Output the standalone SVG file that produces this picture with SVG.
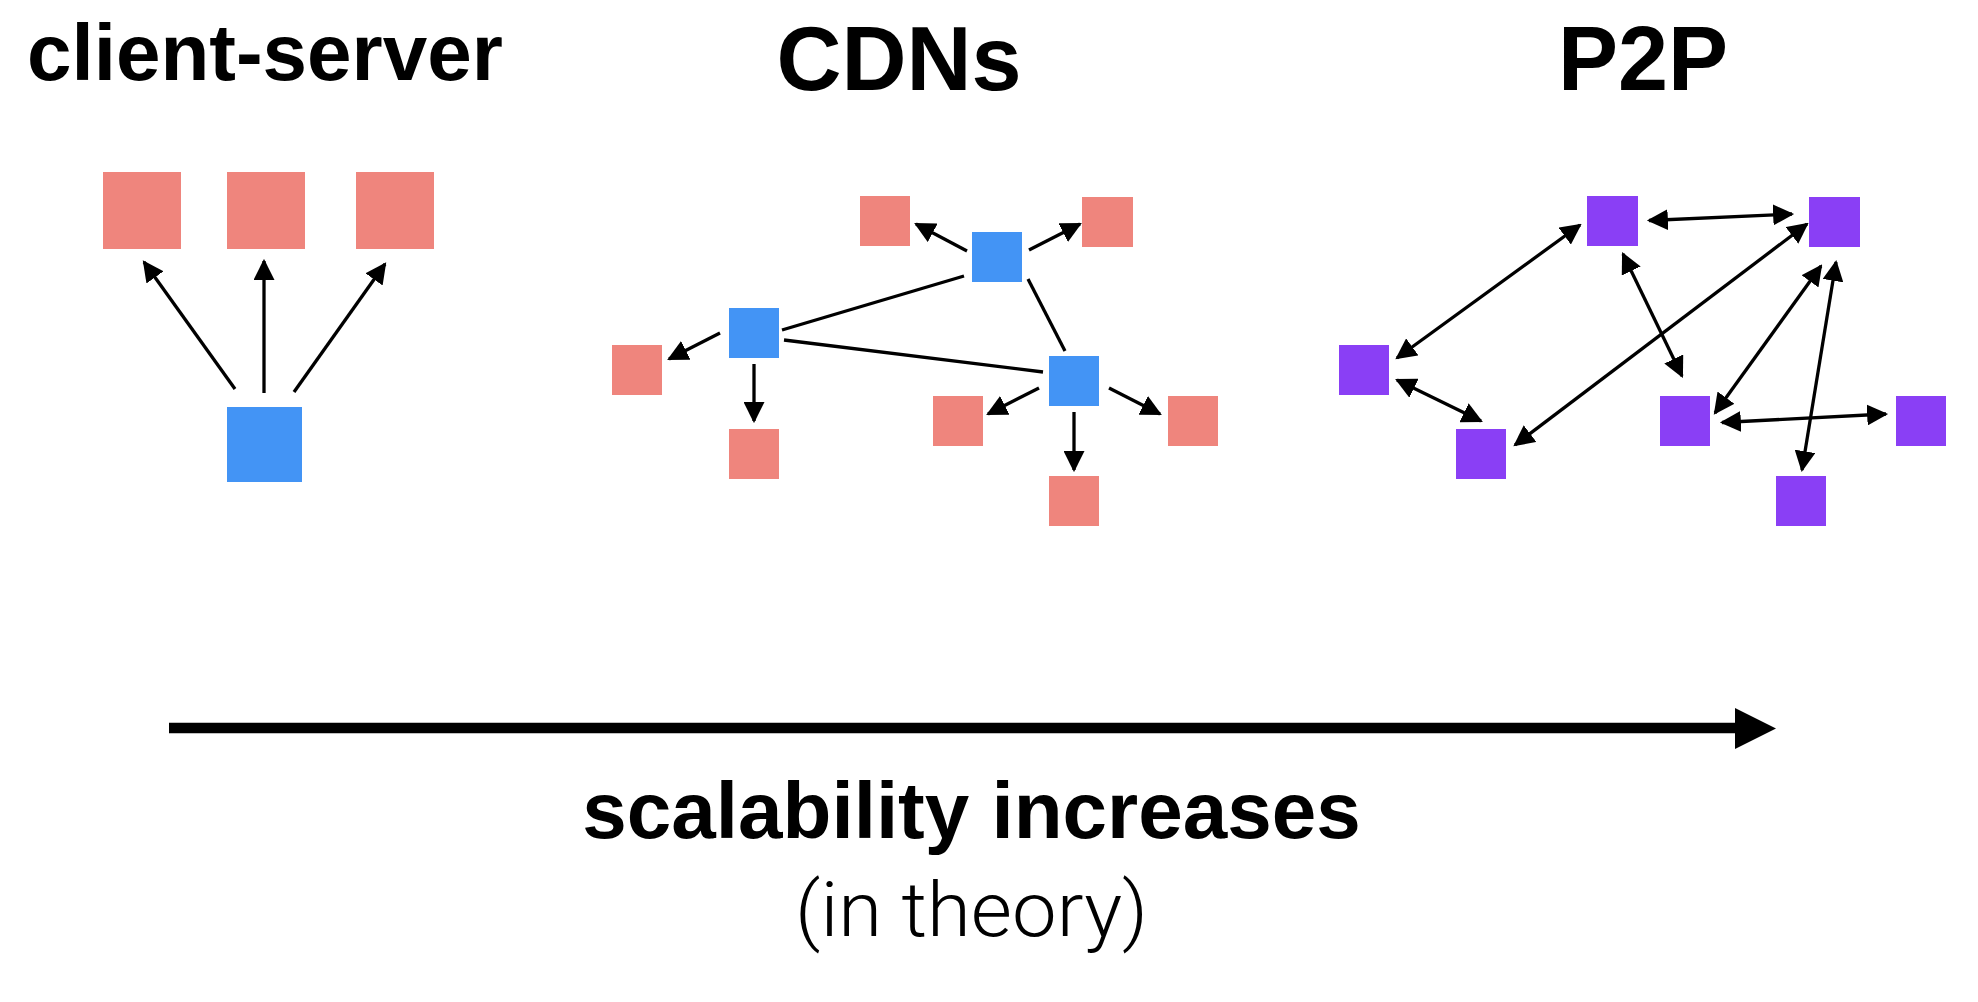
<svg xmlns="http://www.w3.org/2000/svg" width="1978" height="1002" viewBox="0 0 1978 1002">
<style>
.red{fill:#EF857D}
.blue{fill:#4394F5}
.purple{fill:#8A3FF5}
.title{font-family:"Liberation Sans",Arial,sans-serif;font-weight:bold;fill:#000}
.light{font-family:Roboto,"Liberation Sans",sans-serif;font-weight:300;fill:#000}
.c line{stroke:#000;stroke-width:3.3;fill:none}
.one{marker-end:url(#ah)}
.two{marker-start:url(#ah);marker-end:url(#ah)}
</style>
<defs>
<marker id="ah" markerUnits="userSpaceOnUse" markerWidth="21" markerHeight="21" viewBox="0 0 20 20" refX="18" refY="10" orient="auto-start-reverse">
<path d="M0,0 L20,10 L0,20 z" fill="#000"/>
</marker>
</defs>
<rect width="1978" height="1002" fill="#fff"/>

<text class="title" x="27" y="80" font-size="80">client-server</text>
<text class="title" x="899" y="90" font-size="90" text-anchor="middle">CDNs</text>
<text class="title" x="1643" y="90" font-size="90" text-anchor="middle">P2P</text>
<text class="title" x="971.5" y="838" font-size="80" text-anchor="middle">scalability increases</text>
<text class="light" x="971.5" y="936" font-size="76" text-anchor="middle" textLength="353" lengthAdjust="spacingAndGlyphs">(in theory)</text>

<g id="cs-nodes">
<rect id="cs-client1" class="red" x="103" y="172" width="78" height="77"/>
<rect id="cs-client2" class="red" x="227" y="172" width="78" height="77"/>
<rect id="cs-client3" class="red" x="356" y="172" width="78" height="77"/>
<rect id="cs-server" class="blue" x="227" y="407" width="75" height="75"/>
</g>

<g id="cdn-nodes">
<rect id="cdn-b1" class="blue" x="972" y="232" width="50" height="50"/>
<rect id="cdn-b2" class="blue" x="729" y="308" width="50" height="50"/>
<rect id="cdn-b3" class="blue" x="1049" y="356" width="50" height="50"/>
<rect id="cdn-r1" class="red" x="860" y="196" width="50" height="50"/>
<rect id="cdn-r2" class="red" x="1082" y="197" width="51" height="50"/>
<rect id="cdn-r3" class="red" x="612" y="345" width="50" height="50"/>
<rect id="cdn-r4" class="red" x="729" y="429" width="50" height="50"/>
<rect id="cdn-r5" class="red" x="933" y="396" width="50" height="50"/>
<rect id="cdn-r6" class="red" x="1168" y="396" width="50" height="50"/>
<rect id="cdn-r7" class="red" x="1049" y="476" width="50" height="50"/>
</g>

<g id="p2p-nodes">
<rect id="p1" class="purple" x="1587" y="196" width="51" height="50"/>
<rect id="p2" class="purple" x="1809" y="197" width="51" height="50"/>
<rect id="p3" class="purple" x="1339" y="345" width="50" height="50"/>
<rect id="p4" class="purple" x="1456" y="429" width="50" height="50"/>
<rect id="p5" class="purple" x="1660" y="396" width="50" height="50"/>
<rect id="p6" class="purple" x="1896" y="396" width="50" height="50"/>
<rect id="p7" class="purple" x="1776" y="476" width="50" height="50"/>
</g>

<g id="connectors" class="c">
<line class="one" x1="235" y1="389" x2="144" y2="262"/>
<line class="one" x1="264" y1="393" x2="264" y2="261"/>
<line class="one" x1="294" y1="392" x2="385" y2="264"/>

<line class="one" x1="967" y1="251" x2="916" y2="224"/>
<line class="one" x1="1029" y1="250" x2="1080" y2="224"/>
<line x1="964" y1="276" x2="782" y2="330"/>
<line x1="1028" y1="279" x2="1065" y2="351"/>
<line x1="784" y1="340" x2="1043" y2="372"/>
<line class="one" x1="720" y1="333" x2="669" y2="359"/>
<line class="one" x1="754" y1="364" x2="754" y2="421"/>
<line class="one" x1="1039" y1="388" x2="988" y2="414"/>
<line class="one" x1="1109" y1="388" x2="1160" y2="414"/>
<line class="one" x1="1074" y1="412" x2="1074" y2="470"/>

<line class="two" x1="1649" y1="220.5" x2="1792" y2="214"/>
<line class="two" x1="1397" y1="358" x2="1580" y2="225"/>
<line class="two" x1="1397" y1="380" x2="1481" y2="421"/>
<line class="two" x1="1807" y1="224" x2="1515" y2="445"/>
<line class="two" x1="1623" y1="254" x2="1682" y2="376"/>
<line class="two" x1="1821" y1="266" x2="1715" y2="413"/>
<line class="two" x1="1836" y1="262" x2="1802" y2="470"/>
<line class="two" x1="1722" y1="422.5" x2="1886" y2="414"/>

<line x1="169" y1="728" x2="1736" y2="728" style="stroke-width:10.5"/>
<polygon points="1735,708 1776,728.5 1735,749" fill="#000"/>
</g>
</svg>
